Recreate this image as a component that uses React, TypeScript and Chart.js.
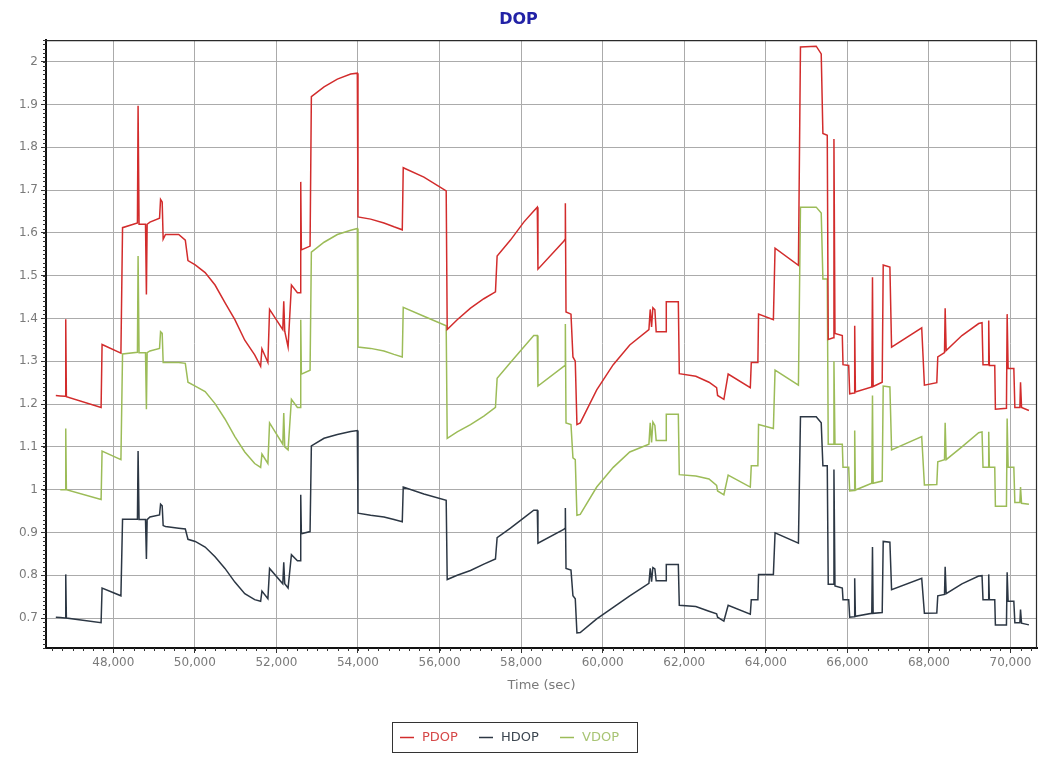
import React, { useEffect, useRef } from 'react';
import { Chart, registerables } from 'chart.js';

Chart.register(...registerables);

// Time (sec) shared by all three series
const TIME = [
  46591, 46700, 46818, 46834, 46850, 47701, 47725, 48187, 48227, 48592,
  48608, 48632, 48790, 48812, 48830, 48899, 49134, 49159, 49199, 49223,
  49280, 49604, 49766, 49831, 50009, 50252, 50495, 50738, 50981, 51224,
  51467, 51613, 51645, 51791, 51832, 52156, 52180, 52204, 52286, 52368,
  52515, 52580, 52596, 52612, 52825, 52857, 53168, 53494, 53821, 53984,
  54000, 54310, 54637, 54882, 55086, 55110, 55616, 56163, 56188, 56433,
  56759, 57086, 57371, 57412, 57739, 58066, 58310, 58397, 58413, 59045,
  59077, 59085, 59101, 59223, 59271, 59328, 59369, 59450, 59854, 60259,
  60664, 61134, 61166, 61199, 61231, 61280, 61312, 61555, 61560, 61855,
  61879, 62284, 62607, 62794, 62818, 62972, 63077, 63620, 63644, 63806,
  63822, 64186, 64227, 64800, 64850, 65236, 65359, 65400, 65507, 65531,
  65655, 65671, 65696, 65876, 65893, 66033, 66057, 66164, 66180, 66197,
  66599, 66616, 66632, 66854, 66879, 67043, 67084, 67823, 67889, 68193,
  68217, 68382, 68398, 68423, 68809, 69220, 69302, 69326, 69450, 69466,
  69482, 69614, 69630, 69901, 69918, 69942, 70082, 70107, 70230, 70246,
  70271, 70452,
];

const PDOP = [
  1.220, 1.219, 1.218, 1.398, 1.217, 1.192, 1.339, 1.319, 1.612, 1.623,
  1.897, 1.620, 1.620, 1.456, 1.620, 1.625, 1.634, 1.678, 1.672, 1.585,
  1.596, 1.596, 1.583, 1.535, 1.525, 1.507, 1.478, 1.437, 1.397, 1.349,
  1.315, 1.288, 1.329, 1.297, 1.421, 1.374, 1.440, 1.370, 1.333, 1.478,
  1.460, 1.460, 1.719, 1.560, 1.569, 1.918, 1.941, 1.959, 1.971, 1.973,
  1.637, 1.632, 1.623, 1.614, 1.607, 1.752, 1.730, 1.698, 1.374, 1.397,
  1.424, 1.446, 1.462, 1.546, 1.583, 1.625, 1.651, 1.660, 1.515, 1.580,
  1.585, 1.669, 1.415, 1.410, 1.310, 1.300, 1.152, 1.156, 1.233, 1.292,
  1.338, 1.374, 1.421, 1.380, 1.425, 1.420, 1.369, 1.369, 1.439, 1.439,
  1.271, 1.265, 1.251, 1.238, 1.220, 1.211, 1.270, 1.238, 1.297, 1.297,
  1.410, 1.397, 1.564, 1.524, 2.034, 2.036, 2.018, 1.832, 1.828, 1.351,
  1.355, 1.819, 1.365, 1.360, 1.292, 1.290, 1.224, 1.226, 1.383, 1.228,
  1.240, 1.496, 1.241, 1.251, 1.525, 1.520, 1.333, 1.378, 1.244, 1.250,
  1.310, 1.320, 1.424, 1.325, 1.360, 1.388, 1.390, 1.292, 1.292, 1.395,
  1.290, 1.290, 1.188, 1.190, 1.410, 1.283, 1.283, 1.192, 1.192, 1.251,
  1.192, 1.185,
];

const HDOP = [
  0.702, 0.701, 0.700, 0.802, 0.700, 0.689, 0.770, 0.752, 0.931, 0.931,
  1.090, 0.930, 0.930, 0.838, 0.930, 0.936, 0.941, 0.966, 0.962, 0.916,
  0.914, 0.910, 0.908, 0.884, 0.879, 0.866, 0.843, 0.816, 0.784, 0.757,
  0.743, 0.739, 0.763, 0.745, 0.816, 0.780, 0.830, 0.780, 0.770, 0.848,
  0.834, 0.834, 0.988, 0.897, 0.902, 1.102, 1.120, 1.129, 1.136, 1.138,
  0.945, 0.940, 0.936, 0.930, 0.925, 1.006, 0.990, 0.975, 0.790, 0.800,
  0.811, 0.826, 0.838, 0.888, 0.910, 0.934, 0.952, 0.952, 0.875, 0.907,
  0.910, 0.957, 0.816, 0.812, 0.752, 0.745, 0.665, 0.666, 0.698, 0.725,
  0.752, 0.781, 0.816, 0.785, 0.818, 0.815, 0.787, 0.787, 0.825, 0.825,
  0.730, 0.727, 0.716, 0.710, 0.702, 0.693, 0.730, 0.709, 0.743, 0.743,
  0.802, 0.802, 0.899, 0.875, 1.170, 1.170, 1.156, 1.056, 1.056, 0.779,
  0.779, 1.047, 0.775, 0.770, 0.743, 0.743, 0.702, 0.703, 0.793, 0.704,
  0.711, 0.866, 0.711, 0.713, 0.879, 0.877, 0.766, 0.793, 0.711, 0.712,
  0.752, 0.755, 0.820, 0.757, 0.780, 0.798, 0.799, 0.743, 0.743, 0.802,
  0.743, 0.743, 0.684, 0.684, 0.807, 0.739, 0.739, 0.689, 0.689, 0.720,
  0.688, 0.684,
];

const VDOP = [
  null, 1.000, 1.000, 1.143, 1.000, 0.977, 1.090, 1.070, 1.317, 1.321,
  1.546, 1.320, 1.320, 1.188, 1.320, 1.324, 1.330, 1.369, 1.365, 1.297,
  1.297, 1.297, 1.295, 1.251, 1.242, 1.229, 1.201, 1.165, 1.124, 1.088,
  1.061, 1.052, 1.083, 1.061, 1.156, 1.106, 1.179, 1.100, 1.093, 1.211,
  1.192, 1.192, 1.397, 1.270, 1.279, 1.555, 1.578, 1.596, 1.606, 1.610,
  1.333, 1.330, 1.324, 1.316, 1.310, 1.426, 1.405, 1.383, 1.120, 1.135,
  1.152, 1.172, 1.192, 1.260, 1.297, 1.333, 1.360, 1.360, 1.242, 1.288,
  1.290, 1.387, 1.156, 1.152, 1.074, 1.070, 0.940, 0.942, 1.006, 1.052,
  1.088, 1.106, 1.156, 1.110, 1.158, 1.150, 1.115, 1.115, 1.176, 1.176,
  1.035, 1.032, 1.025, 1.010, 0.997, 0.988, 1.034, 1.006, 1.056, 1.056,
  1.152, 1.143, 1.279, 1.244, 1.660, 1.660, 1.646, 1.492, 1.492, 1.106,
  1.106, 1.300, 1.106, 1.106, 1.052, 1.052, 0.997, 0.998, 1.138, 0.999,
  1.015, 1.220, 1.015, 1.020, 1.242, 1.240, 1.093, 1.124, 1.011, 1.012,
  1.065, 1.070, 1.156, 1.070, 1.100, 1.133, 1.135, 1.052, 1.052, 1.135,
  1.052, 1.052, 0.961, 0.961, 1.166, 1.052, 1.052, 0.970, 0.970, 1.006,
  0.968, 0.966,
];

const SERIES_NAMES = ['PDOP', 'HDOP', 'VDOP'];
const SERIES_VALUES = [PDOP, HDOP, VDOP];
const SERIES_COLORS = ['#d22c2c', '#2c3744', '#9cbc58'];
const LEGEND_TEXT_COLORS = ['#d64848', '#3c4650', '#a8c474'];

const X_TICKS = [48000, 50000, 52000, 54000, 56000, 58000, 60000, 62000, 64000, 66000, 68000, 70000];
const Y_TICKS = [0.7, 0.8, 0.9, 1, 1.1, 1.2, 1.3, 1.4, 1.5, 1.6, 1.7, 1.8, 1.9, 2];
const X_MIN = 46350;
const X_MAX = 70650;
const Y_MIN = 0.63;
const Y_MAX = 2.05;
const X_MINOR_STEP = 250;
const Y_MINOR_STEP = 0.01;

const FONT = '"DejaVu Sans", "Liberation Sans", sans-serif';

const framePlugin = {
  id: 'frame',
  afterDatasetsDraw(chart: any) {
    const { ctx, chartArea: a, scales } = chart;
    ctx.save();
    ctx.strokeStyle = '#2a2a2a';
    ctx.lineWidth = 1.2;
    ctx.beginPath();
    ctx.moveTo(a.left, a.top + 0.5);
    ctx.lineTo(a.right - 0.5, a.top + 0.5);
    ctx.lineTo(a.right - 0.5, a.bottom);
    ctx.stroke();

    // minor ticks
    ctx.strokeStyle = '#333';
    ctx.lineWidth = 1;
    ctx.beginPath();
    const xs = scales.x;
    for (let v = Math.ceil(X_MIN / X_MINOR_STEP) * X_MINOR_STEP; v <= X_MAX; v += X_MINOR_STEP) {
      const px = Math.round(xs.getPixelForValue(v)) + 0.5;
      ctx.moveTo(px, a.bottom);
      ctx.lineTo(px, a.bottom + 3);
    }
    const ys = scales.y;
    const n = Math.round((Y_MAX - Y_MIN) / Y_MINOR_STEP);
    const start = Math.ceil(Y_MIN / Y_MINOR_STEP);
    for (let i = 0; i <= n; i++) {
      const v = (start + i) * Y_MINOR_STEP;
      if (v > Y_MAX) break;
      const py = Math.round(ys.getPixelForValue(v)) + 0.5;
      ctx.moveTo(a.left - 3, py);
      ctx.lineTo(a.left, py);
    }
    ctx.stroke();
    ctx.restore();
  },
};

const legendPlugin = {
  id: 'legendBox',
  afterDraw(chart: any) {
    const { ctx } = chart;
    const boxLeft = 392;
    const boxTop = 722;
    const boxW = 245;
    const boxH = 30;
    ctx.save();
    ctx.fillStyle = '#ffffff';
    ctx.fillRect(boxLeft, boxTop, boxW, boxH);
    ctx.strokeStyle = '#333';
    ctx.lineWidth = 1;
    ctx.strokeRect(boxLeft + 0.5, boxTop + 0.5, boxW, boxH);
    ctx.font = '13px ' + FONT;
    ctx.textBaseline = 'middle';
    ctx.textAlign = 'left';
    const cy = boxTop + boxH / 2 + 0.5;
    const offsets = [8, 87, 168];
    chart.data.datasets.forEach((ds: any, i: number) => {
      const x0 = boxLeft + offsets[i];
      ctx.strokeStyle = ds.borderColor;
      ctx.lineWidth = 1.5;
      ctx.beginPath();
      ctx.moveTo(x0, cy);
      ctx.lineTo(x0 + 14, cy);
      ctx.stroke();
      ctx.fillStyle = LEGEND_TEXT_COLORS[i];
      ctx.fillText(ds.label, x0 + 22, cy);
    });
    ctx.restore();
  },
};

export default function App() {
  const ref = useRef<HTMLCanvasElement>(null);

  useEffect(() => {
    const datasets = SERIES_NAMES.map((name, i) => ({
      label: name,
      data: TIME.map((t, j) => ({ x: t, y: SERIES_VALUES[i][j] })),
      borderColor: SERIES_COLORS[i],
      backgroundColor: SERIES_COLORS[i],
      borderWidth: 1.5,
      pointRadius: 0,
      tension: 0,
      fill: false,
    }));

    const chart = new Chart(ref.current as HTMLCanvasElement, {
      type: 'line',
      data: { datasets },
      options: {
        responsive: false,
        animation: false,
        layout: { padding: { left: 0, right: 8, top: 0, bottom: 60 } },
        plugins: {
          legend: { display: false },
          tooltip: { enabled: false },
          title: {
            display: true,
            text: 'DOP',
            color: '#2222a6',
            font: { family: FONT, size: 16, weight: 'bold' },
            padding: { top: 10, bottom: 11 },
          },
        },
        scales: {
          x: {
            type: 'linear',
            min: X_MIN,
            max: X_MAX,
            afterBuildTicks: (s: any) => {
              s.ticks = X_TICKS.map((v) => ({ value: v }));
            },
            afterFit: (s: any) => {
              s.height = 49;
            },
            ticks: {
              autoSkip: false,
              maxRotation: 0,
              color: '#7a7a7a',
              font: { family: FONT, size: 12 },
              padding: 3,
              callback: (v: any) => Number(v).toLocaleString('en-US'),
            },
            grid: { color: '#ababab', lineWidth: 1, tickLength: 5, tickColor: '#333' },
            border: { display: true, color: '#111', width: 2 },
            title: {
              display: true,
              text: 'Time (sec)',
              color: '#7a7a7a',
              font: { family: FONT, size: 13 },
              padding: { top: 0, bottom: 4 },
            },
          },
          y: {
            type: 'linear',
            min: Y_MIN,
            max: Y_MAX,
            afterBuildTicks: (s: any) => {
              s.ticks = Y_TICKS.map((v) => ({ value: v }));
            },
            afterFit: (s: any) => {
              s.width = 46;
            },
            ticks: {
              autoSkip: false,
              color: '#7a7a7a',
              font: { family: FONT, size: 12 },
              padding: 3,
              callback: (v: any) => String(Math.round(Number(v) * 10) / 10),
            },
            grid: { color: '#ababab', lineWidth: 1, tickLength: 5, tickColor: '#333' },
            border: { display: true, color: '#111', width: 2 },
          },
        },
      },
      plugins: [framePlugin, legendPlugin],
    } as any);

    return () => chart.destroy();
  }, []);

  return (
    <div style={{ position: 'absolute', left: 0, top: 0, width: 1045, height: 757, background: '#fff' }}>
      <canvas ref={ref} width={1045} height={757} style={{ display: 'block', width: 1045, height: 757 }} />
    </div>
  );
}
